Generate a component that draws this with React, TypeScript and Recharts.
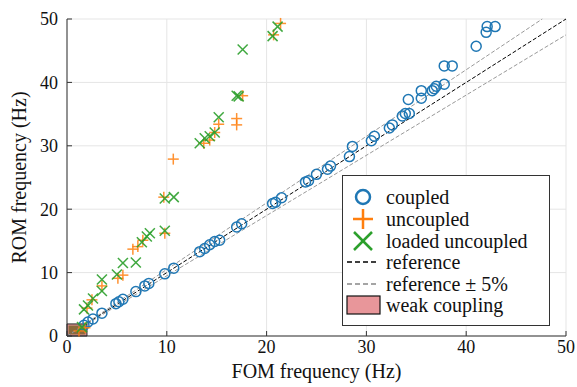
import React from "react"
import {
    ScatterChart,
    Scatter,
    XAxis,
    YAxis,
    CartesianGrid,
    ReferenceLine,
    ReferenceArea,
} from "recharts"

const ticks = [0, 10, 20, 30, 40, 50]

const coupled = [
    [1.7, 1.7], [2.1, 2.2], [2.6, 2.7], [3.5, 3.6], [4.9, 5.1], [5.2, 5.4], [5.6, 5.8],
    [6.9, 7.0], [7.8, 7.9], [8.2, 8.3], [9.8, 9.8], [10.7, 10.7], [13.3, 13.3], [13.8, 13.8],
    [14.3, 14.4], [14.8, 14.9], [15.3, 15.1], [17.0, 17.2], [17.5, 17.7], [20.6, 20.9],
    [20.9, 21.1], [21.5, 21.8], [23.9, 24.3], [24.2, 24.5], [25.0, 25.5], [26.1, 26.3],
    [26.4, 26.8], [28.3, 28.3], [28.6, 29.9], [30.5, 30.8], [30.8, 31.5], [32.3, 32.8],
    [32.6, 33.3], [33.6, 34.7], [33.9, 35.1], [34.3, 35.1], [34.2, 37.3], [35.5, 37.5],
    [35.5, 38.7], [36.6, 38.7], [36.8, 39.0], [37.0, 39.4], [37.8, 39.7], [37.8, 42.6],
    [38.6, 42.6], [41.0, 45.7], [42.0, 47.9], [42.1, 48.8], [42.9, 48.8],
]

const uncoupled = [
    [1.2, 0.8], [1.8, 1.3], [2.0, 4.4], [2.5, 5.7], [3.5, 7.9], [5.1, 9.1], [5.6, 9.6],
    [6.6, 13.7], [7.1, 14.1], [7.6, 15.1], [9.8, 16.2], [9.7, 21.9], [10.65, 27.9],
    [13.7, 30.4], [14.3, 30.9], [14.8, 32.1], [15.2, 33.4], [17.0, 33.3], [17.0, 34.3],
    [17.6, 37.9], [20.7, 47.5], [21.4, 49.3],
]

const loadedUncoupled = [
    [1.5, 1.4], [1.7, 4.2], [2.1, 4.8], [2.6, 5.9], [3.5, 7.1], [3.5, 8.9], [5.0, 9.7],
    [5.6, 11.5], [6.9, 11.6], [7.5, 14.8], [8.0, 15.7], [8.3, 16.2], [9.8, 16.6],
    [9.8, 21.7], [10.7, 21.9], [13.3, 30.4], [13.8, 31.2], [14.3, 31.5], [14.8, 32.1],
    [15.2, 34.5], [17.0, 37.9], [17.2, 37.8], [17.6, 45.2], [20.6, 47.3], [21.1, 48.8],
]

const legendLabels = [
    "coupled",
    "uncoupled",
    "loaded uncoupled",
    "reference",
    "reference \u00b1 5%",
    "weak coupling",
]

const toPoints = (arr: number[][]) => arr.map(([x, y]) => ({ x, y }))

const BLUE = "#1f77b4"
const ORANGE = "#ff7f0e"
const GREEN = "#2ca02c"
const FONT = "'Liberation Serif', serif"
const tickStyle = { fontFamily: FONT, fontSize: 18 }
const labelStyle = { fontFamily: FONT, fontSize: 20 }

const Circle = (props: any) => (
    <circle cx={props.cx} cy={props.cy} r={5} fill="none" stroke={BLUE} strokeWidth={1.5} />
)

const Plus = (props: any) => {
    const { cx, cy } = props
    return (
        <g stroke={ORANGE} strokeWidth={1.5} opacity={0.85}>
            <line x1={cx - 5.5} y1={cy} x2={cx + 5.5} y2={cy} />
            <line x1={cx} y1={cy - 5.5} x2={cx} y2={cy + 5.5} />
        </g>
    )
}

const Cross = (props: any) => {
    const { cx, cy } = props
    return (
        <g stroke={GREEN} strokeWidth={1.5} opacity={0.9}>
            <line x1={cx - 5} y1={cy - 5} x2={cx + 5} y2={cy + 5} />
            <line x1={cx - 5} y1={cy + 5} x2={cx + 5} y2={cy - 5} />
        </g>
    )
}

function Legend() {
    const rowY = [22, 44, 66, 87, 109, 130]
    return (
        <svg
            width={208}
            height={151}
            style={{ position: "absolute", left: 342, top: 175, background: "white" }}
        >
            <rect x={0.5} y={0.5} width={207} height={150} fill="white" stroke="#333" />
            <circle cx={21} cy={rowY[0]} r={7} fill="none" stroke={BLUE} strokeWidth={2.5} />
            <g stroke={ORANGE} strokeWidth={2.5}>
                <line x1={11} y1={rowY[1]} x2={31} y2={rowY[1]} />
                <line x1={21} y1={rowY[1] - 10} x2={21} y2={rowY[1] + 10} />
            </g>
            <g stroke={GREEN} strokeWidth={2.5}>
                <line x1={12} y1={rowY[2] - 9} x2={30} y2={rowY[2] + 9} />
                <line x1={12} y1={rowY[2] + 9} x2={30} y2={rowY[2] - 9} />
            </g>
            <line x1={5} y1={rowY[3]} x2={36} y2={rowY[3]} stroke="#000" strokeWidth={1.5} strokeDasharray="5 3" />
            <line x1={5} y1={rowY[4]} x2={36} y2={rowY[4]} stroke="#888" strokeWidth={1.5} strokeDasharray="5 3" />
            <rect x={5} y={rowY[5] - 9} width={33} height={18} fill="#e8969a" stroke="#111" strokeWidth={1.2} />
            {legendLabels.map((r, i) => (
                <text key={r} x={44} y={rowY[i]} dy="0.33em" fill="#111" style={{ fontFamily: FONT, fontSize: 20 }}>
                    {r}
                </text>
            ))}
        </svg>
    )
}

export default function App() {
    return (
        <div style={{ position: "absolute", left: 0, top: 0, width: 577, height: 387, background: "white" }}>
            <ScatterChart width={577} height={387} margin={{ top: 19, right: 11, left: 0, bottom: 0 }}>
                <CartesianGrid stroke="#e5e5e5" strokeWidth={1} />
                <XAxis
                    type="number"
                    dataKey="x"
                    domain={[0, 50]}
                    ticks={ticks}
                    height={51}
                    tickSize={-5}
                    tickMargin={9}
                    stroke="#333"
                    tick={{ fill: "#111", style: tickStyle }}
                    label={{
                        value: "FOM frequency (Hz)",
                        position: "insideBottom",
                        offset: 9,
                        fill: "#111",
                        style: labelStyle,
                    }}
                />
                <YAxis
                    type="number"
                    dataKey="y"
                    domain={[0, 50]}
                    ticks={ticks}
                    width={67}
                    tickSize={-5}
                    tickMargin={14}
                    stroke="#333"
                    tick={{ fill: "#111", style: tickStyle }}
                    label={{
                        value: "ROM frequency (Hz)",
                        angle: -90,
                        position: "insideLeft",
                        offset: 19,
                        fill: "#111",
                        style: { ...labelStyle, textAnchor: "middle" },
                    }}
                />
                <ReferenceArea x1={0} x2={2} y1={0} y2={1.9} fill="#e8969a" fillOpacity={1} stroke="#222" strokeWidth={1} />
                <ReferenceArea x1={0.15} x2={1.85} y1={0.25} y2={1.65} fill="#8b6a3c" fillOpacity={1} stroke="none" />
                <Scatter data={toPoints(coupled)} shape={Circle} isAnimationActive={false} />
                <Scatter data={toPoints(uncoupled)} shape={Plus} isAnimationActive={false} />
                <Scatter data={toPoints(loadedUncoupled)} shape={Cross} isAnimationActive={false} />
                <ReferenceLine
                    segment={[{ x: 0, y: 0 }, { x: 50, y: 50 }]}
                    stroke="#000"
                    strokeWidth={1}
                    strokeDasharray="4 2"
                    ifOverflow="visible"
                />
                <ReferenceLine
                    segment={[{ x: 0, y: 0 }, { x: 50 / 1.05, y: 50 }]}
                    stroke="#999"
                    strokeWidth={1}
                    strokeDasharray="4 2"
                    ifOverflow="visible"
                />
                <ReferenceLine
                    segment={[{ x: 0, y: 0 }, { x: 50, y: 47.5 }]}
                    stroke="#999"
                    strokeWidth={1}
                    strokeDasharray="4 2"
                    ifOverflow="visible"
                />
            </ScatterChart>
            <Legend />
        </div>
    )
}
